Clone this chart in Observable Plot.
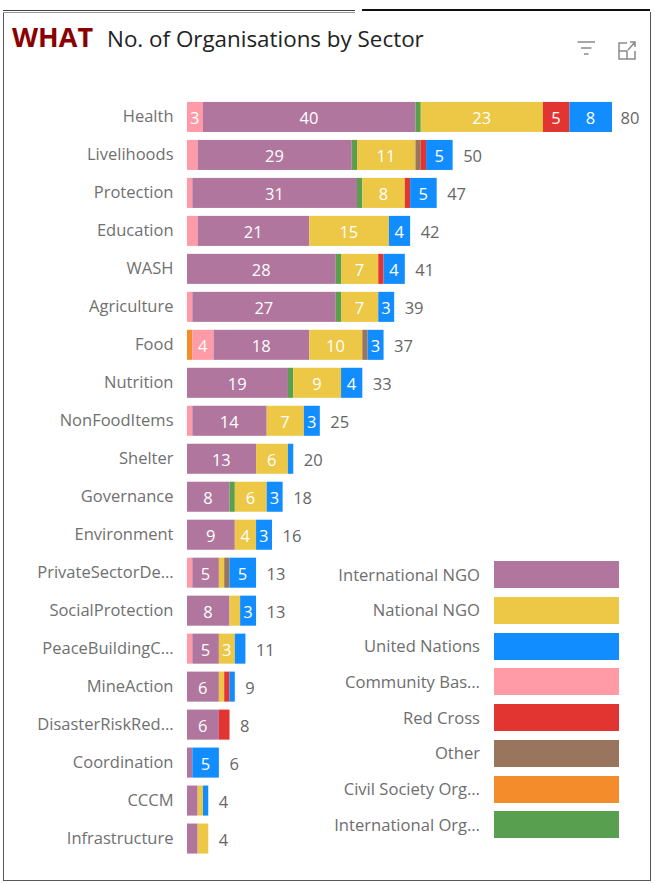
<!DOCTYPE html>
<html>
<head>
<meta charset="utf-8">
<script src="https://cdn.jsdelivr.net/npm/d3@7"></script>
<script src="https://cdn.jsdelivr.net/npm/@observablehq/plot@0.6"></script>
<style>
html,body{margin:0;padding:0;background:#fff;}
#page{position:relative;width:655px;height:883px;overflow:hidden;font-family:"Open Sans","Noto Sans",sans-serif;}
#frame{position:absolute;left:3px;top:12px;width:646px;height:868px;border:1px solid #555;border-top:none;border-width:0 1px 1px 1px;}
#topL{position:absolute;left:3px;top:10px;width:352px;height:1px;border-top:1px solid #444;border-bottom:1px solid #999;}
#topR{position:absolute;left:362px;top:9px;width:288px;height:2px;background:#111;}
#title{position:absolute;left:12px;top:18px;white-space:nowrap;color:#222;}
#title b{color:#8b0000;font-size:27px;font-weight:700;margin-right:14px;letter-spacing:0;}
#title span{font-size:22.4px;letter-spacing:0;}
#chart{position:absolute;left:0;top:0;}
#legend{position:absolute;left:300px;top:561px;width:319px;}
.row{display:flex;align-items:center;justify-content:flex-end;height:27px;margin-bottom:8.75px;font-size:16.6px;color:#6e6e6e;}
.row span{position:relative;top:-0.5px;}
.row i{display:block;width:125px;height:27px;margin-left:14px;}
#icons{position:absolute;left:575px;top:38px;}
svg text{font-family:"Open Sans","Noto Sans",sans-serif;}
</style>
</head>
<body>
<div id="page">
  <div id="chart"></div>
  <div id="frame"></div><div id="topL"></div><div id="topR"></div>
  <div id="title"><b>WHAT</b><span>No. of Organisations by Sector</span></div>
  <svg id="icons" width="64" height="26" fill="none" stroke="#8a8a8a" stroke-width="1.5">
    <path d="M2.5 4H20M6 10H16.500M9 16H13.500"/>
    <path d="M52 5H44V21H60V13M44 13H52V21M53 12L60 4M55 4H60V9"/>
  </svg>
  <div id="legend"></div>
</div>
<script>
const sectors = ["Health","Livelihoods","Protection","Education","WASH","Agriculture","Food","Nutrition","NonFoodItems","Shelter","Governance","Environment","PrivateSectorDe…","SocialProtection","PeaceBuildingC…","MineAction","DisasterRiskRed…","Coordination","CCCM","Infrastructure"];
const civilSociety  = [0,0,0,0,0,0,1,0,0,0,0,0,0,0,0,0,0,0,0,0];
const communityBased= [3,2,1,2,0,1,4,0,1,0,0,0,1,0,1,0,0,0,0,0];
const intlNGO       = [40,29,31,21,28,27,18,19,14,13,8,9,5,8,5,6,6,1,2,2];
const intlOrg       = [1,1,1,0,1,1,0,1,0,0,1,0,0,0,0,0,0,0,0,0];
const nationalNGO   = [23,11,8,15,7,7,10,9,7,6,6,4,1,2,3,1,0,0,1,2];
const other         = [0,1,0,0,0,0,1,0,0,0,0,0,1,0,0,0,0,0,0,0];
const redCross      = [5,1,1,0,1,0,0,0,0,0,0,0,0,0,0,1,2,0,0,0];
const unitedNations = [8,5,5,4,4,3,3,4,3,1,3,3,5,3,2,1,0,5,1,0];
const totals        = [80,50,47,42,41,39,37,33,25,20,18,16,13,13,11,9,8,6,4,4];

const stackOrder = ["Civil Society Org…","Community Bas…","International NGO","International Org…","National NGO","Other","Red Cross","United Nations"];
const stackValues = [civilSociety,communityBased,intlNGO,intlOrg,nationalNGO,other,redCross,unitedNations];
const legendOrder = ["International NGO","National NGO","United Nations","Community Bas…","Red Cross","Other","Civil Society Org…","International Org…"];
const legendColors = ["#B0769E","#ECC846","#118DFF","#FF9BA7","#E23532","#9A755D","#F48C2B","#58A04F"];

const rows = stackOrder.flatMap((org,i)=>sectors.map((sector,j)=>({sector,org,value:stackValues[i][j]})));
const totalRows = sectors.map((sector,j)=>({sector,total:totals[j]}));
const stackOpts = {x:"value",y:"sector",z:"org",order:stackOrder};
const totalOpts = {x:"total",y:"sector",text:d=>String(d.total),textAnchor:"start",dy:1.5,fontSize:16.5,fill:"#666"};

const chart = Plot.plot({
  width:655,height:883,marginLeft:187,marginRight:43,marginTop:94,marginBottom:21.5,
  style:{fontFamily:'"Open Sans","Noto Sans",sans-serif',background:"transparent"},
  x:{domain:[0,80],axis:null},
  y:{domain:sectors,padding:0.209,round:false,label:null},
  color:{domain:legendOrder,range:legendColors},
  marks:[
    Plot.axisY({tickSize:0,tickPadding:14,fontSize:16.5,color:"#707070",label:null,lineWidth:Infinity,dy:-0.5}),
    Plot.barX(rows,Plot.stackX({...stackOpts,fill:"org"})),
    Plot.text(rows,Plot.stackX({...stackOpts,text:d=>d.value>=3?String(d.value):null,fill:"#fff",fontSize:16.5,dy:1.5,dx:-0.7})),
    Plot.text(totalRows.slice(1),{...totalOpts,dx:10}),
    Plot.text(totalRows.slice(0,1),{...totalOpts,dx:8})
  ]
});
document.getElementById("chart").append(chart);

const legend = document.getElementById("legend");
legendOrder.forEach((name,i)=>{
  const r = document.createElement("div"); r.className="row";
  const t = document.createElement("span"); t.textContent=name;
  const s = document.createElement("i"); s.style.background=legendColors[i];
  r.append(t,s); legend.append(r);
});
</script>
</body>
</html>
